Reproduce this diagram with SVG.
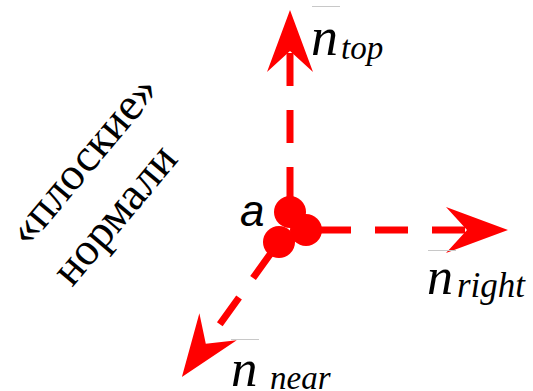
<svg xmlns="http://www.w3.org/2000/svg" width="533" height="391" viewBox="0 0 533 391">
  <style>
    .vec { fill: none; stroke: #ff0000; stroke-width: 7; stroke-dasharray: 33 24; marker-end: url(#arrow); }
    .dot { fill: #ff0000; }
    .bar { stroke: #c8c8c8; stroke-width: 1; }
    .serif { font-family: 'Liberation Serif', 'DejaVu Serif', serif; fill: #000; }
    .it { font-style: italic; }
  </style>
  <defs>
    <marker id="arrow" markerUnits="userSpaceOnUse" markerWidth="80" markerHeight="60" refX="0" refY="0" orient="auto" overflow="visible" viewBox="-30 -30 80 60">
      <path d="M41,0 L-21,-23 L0,0 L-21,23 Z" fill="#ff0000"/>
    </marker>
  </defs>
  <rect width="533" height="391" fill="#ffffff"/>

  <g id="connectors">
    <line class="vec" x1="290" y1="200" x2="290" y2="51"/>
    <line class="vec" x1="318" y1="230" x2="467" y2="230"/>
    <line class="vec" x1="272.3" y1="251.2" x2="205.8" y2="343.8"/>
  </g>

  <g id="point-a">
    <circle class="dot" cx="290" cy="212" r="16"/>
    <circle class="dot" cx="306" cy="230" r="16"/>
    <circle class="dot" cx="279" cy="242" r="16"/>
    <text x="240" y="226" font-family="'Liberation Sans', 'DejaVu Sans', sans-serif" font-style="italic" font-size="44" fill="#000">a</text>
  </g>

  <g id="label-n-top" class="serif it">
    <line class="bar" x1="312" y1="6.5" x2="340" y2="6.5"/>
    <text x="311" y="55" font-size="54">n</text>
    <text x="341" y="59" font-size="33">top</text>
  </g>

  <g id="label-n-right" class="serif it">
    <line class="bar" x1="428" y1="250.5" x2="456" y2="250.5"/>
    <text x="427" y="294" font-size="52">n</text>
    <text x="457" y="297" font-size="35">right</text>
  </g>

  <g id="label-n-near" class="serif it">
    <line class="bar" x1="231" y1="339.5" x2="259" y2="339.5"/>
    <text x="231" y="386" font-size="53">n</text>
    <text x="270" y="389" font-size="33">near</text>
  </g>

  <g id="caption" class="serif" font-size="46">
    <text transform="translate(28,248) rotate(-50)">«плоские»</text>
    <text transform="translate(72,288) rotate(-50)">нормали</text>
  </g>
</svg>
